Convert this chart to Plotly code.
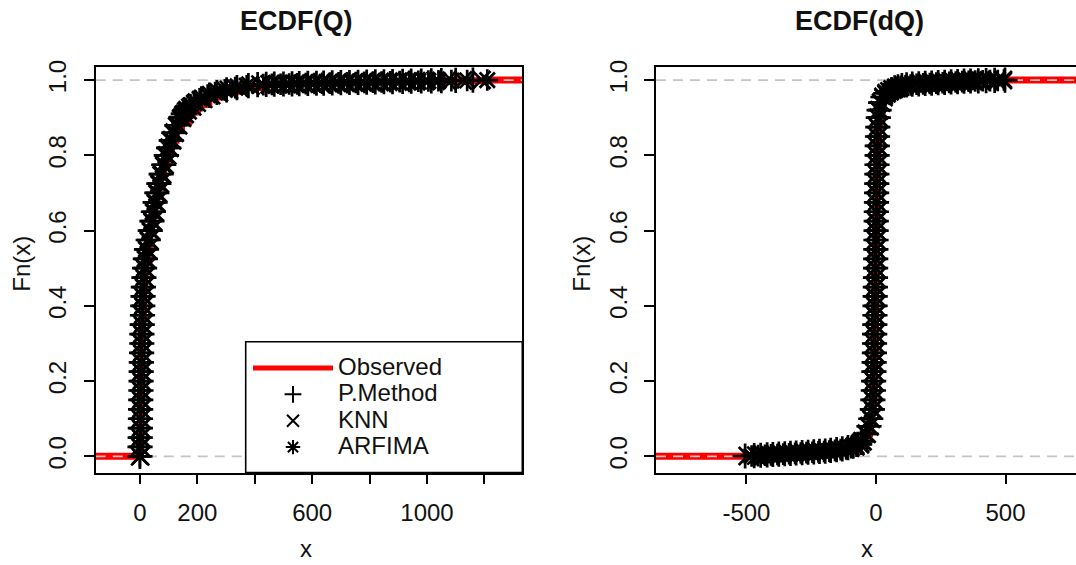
import plotly.graph_objects as go

# ---------------- data: ECDF(Q) ----------------
FQ_BODY = [0.00, 0.025, 0.05, 0.075, 0.10, 0.125, 0.15, 0.175, 0.20, 0.225, 0.25, 0.275,
           0.30, 0.325, 0.35, 0.375, 0.40, 0.425, 0.45, 0.475, 0.50, 0.525, 0.55, 0.575,
           0.60, 0.625, 0.65, 0.675, 0.70, 0.725, 0.75, 0.775, 0.80, 0.82, 0.84, 0.86,
           0.88, 0.90, 0.91, 0.92, 0.93, 0.94, 0.95, 0.96, 0.967, 0.974, 0.98, 0.985]
FQ_TAIL = [0.988, 0.9885, 0.989, 0.9895, 0.990, 0.9905, 0.991, 0.9915, 0.992, 0.9925, 0.993, 0.9935,
           0.994, 0.9945, 0.995, 0.9955, 0.996, 0.9965, 0.997, 0.9975, 0.998, 0.9985, 0.999, 1.0]

Q_PM_BODY = [0, 0.5, 1, 1.5, 2, 2.5, 3, 3.5, 4, 4.5, 5, 6, 6.5, 7, 8, 9, 10, 11, 12, 14, 16, 19, 23,
             29, 36, 42, 47, 53, 59, 66, 74, 83, 92, 100, 109, 118, 129, 143, 151, 161, 176, 193,
             214, 242, 268, 302, 338, 378]
Q_KNN_BODY = [1, 1.5, 2, 2.5, 3, 3.5, 4, 4.5, 5, 5.5, 6, 6.5, 7, 8, 9, 10, 11, 12, 13.5, 15, 17.5,
              21, 25, 31, 38, 44, 50, 56, 62, 69, 77, 86, 95, 103, 112, 121, 133, 147, 156, 166,
              182, 198, 220, 248, 275, 310, 345, 385]
Q_ARF_BODY = [0, 0, 0.5, 1, 1.5, 2, 2.5, 3, 3.5, 4, 4.5, 5, 6, 6.5, 7, 8, 9, 10, 11, 13, 15, 17,
              21, 27, 34, 40, 45, 51, 57, 64, 71, 80, 89, 97, 105, 114, 125, 139, 147, 157, 171,
              188, 208, 236, 262, 296, 332, 372]
Q_PM_TAIL = [410, 440, 468, 500, 530, 555, 585, 615, 640, 670, 700, 730, 760, 790, 820, 850,
             880, 915, 945, 980, 1015, 1050, 1100, 1160]
Q_KNN_TAIL = [420, 452, 480, 510, 540, 570, 600, 628, 655, 685, 715, 745, 775, 805, 835, 865,
              898, 930, 962, 995, 1030, 1070, 1125, 1190]
Q_ARF_TAIL = [430, 460, 490, 520, 548, 578, 608, 635, 662, 692, 722, 752, 782, 812, 842, 872,
              905, 938, 970, 1005, 1040, 1085, 1140, 1210]

Q_OBS_X = [0, 1, 2, 3, 4, 5, 6, 7, 9, 11, 13, 16, 20, 26, 33, 41, 50, 60, 70, 82, 95, 110, 126,
           145, 170, 200, 240, 290, 350, 430, 520, 650, 800, 950, 1100, 1215]
Q_OBS_F = [0.01, 0.05, 0.10, 0.15, 0.20, 0.25, 0.30, 0.34, 0.38, 0.42, 0.46, 0.49, 0.52, 0.56,
           0.60, 0.64, 0.68, 0.715, 0.745, 0.78, 0.81, 0.84, 0.865, 0.89, 0.915, 0.935, 0.955,
           0.97, 0.98, 0.988, 0.991, 0.993, 0.995, 0.997, 0.998, 1.0]

# ---------------- data: ECDF(dQ) ----------------
FD_LOW = [0.001, 0.002, 0.003, 0.004, 0.005, 0.006, 0.007, 0.008, 0.009, 0.010, 0.011, 0.012,
          0.013, 0.014, 0.016, 0.018, 0.020, 0.023, 0.027, 0.032]
FD_BODY = [0.04, 0.06, 0.08, 0.10, 0.125, 0.15, 0.175, 0.20, 0.225, 0.25, 0.275, 0.30, 0.325,
           0.35, 0.375, 0.40, 0.425, 0.45, 0.475, 0.50, 0.525, 0.55, 0.575, 0.60, 0.625, 0.65,
           0.675, 0.70, 0.725, 0.75, 0.775, 0.80, 0.825, 0.85, 0.875, 0.90, 0.92, 0.94, 0.955, 0.965]
FD_HIGH = [0.970, 0.975, 0.979, 0.982, 0.985, 0.987, 0.989, 0.990, 0.991, 0.992, 0.993, 0.994,
           0.995, 0.996, 0.997, 0.9975, 0.998, 0.9985, 0.999, 1.0]

D_PM_LOW = [-505, -470, -445, -420, -398, -375, -352, -330, -308, -285, -262, -240, -218, -196,
            -175, -152, -130, -108, -88, -70]
D_KNN_LOW = [-495, -462, -435, -410, -388, -365, -342, -320, -298, -275, -252, -230, -208, -186,
             -165, -142, -120, -100, -80, -62]
D_ARF_LOW = [-480, -455, -428, -405, -380, -358, -335, -312, -290, -268, -245, -222, -200, -180,
             -158, -136, -115, -95, -75, -56]
D_PM_BODY = [-55, -38, -27, -20, -14, -12, -10, -9, -8, -7, -6, -5.5, -5, -4.5, -4, -3.5, -3,
             -2.5, -2, -1.5, -1, -0.5, 0, 0.5, 1, 1.5, 2, 2.5, 3, 3.5, 4, 4.5, 5, 6, 7, 9, 12,
             18, 27, 38]
D_KNN_BODY = [-52, -36, -25, -19, -13, -11, -9.5, -8.5, -7.5, -6.5, -5.5, -5, -4.5, -4, -3.5, -3,
              -2.5, -2, -1.5, -1, -0.5, 0, 0.5, 1, 1.5, 2, 2.5, 3, 3.5, 4, 4.5, 5, 5.5, 6.5, 7.5,
              10, 13, 20, 29, 41]
D_ARF_BODY = [-58, -40, -29, -21, -15, -12.5, -10.5, -9.5, -8.5, -7.5, -6.5, -6, -5.5, -5, -4.5,
              -4, -3.5, -3, -2.5, -2, -1.5, -1, -0.5, 0, 0.5, 1, 1.5, 2, 2.5, 3, 3.5, 4, 4.5, 5.5,
              6.5, 8.5, 11, 17, 25, 36]
D_PM_HIGH = [48, 60, 72, 85, 100, 118, 140, 165, 190, 215, 240, 265, 290, 315, 340, 365, 395,
             425, 458, 498]
D_KNN_HIGH = [52, 64, 78, 92, 108, 128, 150, 175, 200, 225, 250, 275, 300, 325, 350, 375, 405,
              435, 465, 490]
D_ARF_HIGH = [55, 68, 82, 96, 114, 134, 157, 182, 208, 233, 258, 283, 308, 333, 358, 383, 412,
              440, 470, 494]

D_OBS_X = [-506, -400, -300, -200, -120, -70, -40, -25, -15, -10, -7, -5, -3, -1.5, 0, 1.5, 3,
           5, 7, 10, 15, 25, 40, 70, 120, 200, 300, 400, 498]
D_OBS_F = [0.0005, 0.002, 0.004, 0.008, 0.014, 0.03, 0.06, 0.09, 0.13, 0.18, 0.24, 0.30, 0.38,
           0.46, 0.54, 0.62, 0.70, 0.77, 0.83, 0.88, 0.92, 0.95, 0.97, 0.983, 0.99, 0.994, 0.997,
           0.999, 1.0]

SERIES = ["Observed", "P.Method", "KNN", "ARFIMA"]
TITLES = ["ECDF(Q)", "ECDF(dQ)"]
Q_TICKS = [0, 200, 400, 600, 800, 1000, 1200]
Q_TICKTEXT = ["0", "200", "", "600", "", "1000", ""]
D_TICKS = [-500, 0, 500]
D_TICKTEXT = ["-500", "0", "500"]
Y_TICKS = [0.0, 0.2, 0.4, 0.6, 0.8, 1.0]

# ---------------- layout constants ----------------
W, H = 1076, 565
XR_Q = [-154, 1332]
XR_D = [-849, 772]
YR = [-0.0433, 1.0354]
FONT = "Liberation Sans, Arial, sans-serif"
SYM = {"P.Method": "cross-thin", "KNN": "x-thin", "ARFIMA": "asterisk-open"}

fig = go.Figure()


def add_panel(xa, ya, xr, obs_x, obs_f, sims, legend):
    # observed step line (extends to plot edges like R's plot.ecdf)
    fig.add_trace(go.Scatter(
        x=[xr[0]] + obs_x + [xr[1]], y=[0] + obs_f + [1.0], mode="lines",
        line=dict(color="#ff0000", width=7, shape="hv"),
        name="<span style='font-size:24px'>" + SERIES[0] + "</span>",
        showlegend=legend, xaxis=xa, yaxis=ya, hoverinfo="skip"))
    for yv in (0, 1):
        fig.add_trace(go.Scatter(
            x=xr, y=[yv, yv], mode="lines", showlegend=False,
            line=dict(color="#c4c4c4", width=1.8, dash="10px,7px"),
            xaxis=xa, yaxis=ya, hoverinfo="skip"))
    fig.add_trace(go.Scatter(
        x=obs_x, y=obs_f, mode="markers", showlegend=False,
        marker=dict(color="#ff0000", size=4), xaxis=xa, yaxis=ya, hoverinfo="skip"))
    for name, (sx, sf) in sims.items():
        fig.add_trace(go.Scatter(
            x=sx, y=sf, mode="markers",
            name="<span style='font-size:24px'>" + name + "</span>", showlegend=legend,
            marker=dict(symbol=SYM[name], size=18, color="black",
                        line=dict(color="black", width=2.7)),
            xaxis=xa, yaxis=ya, hoverinfo="skip"))


add_panel("x", "y", XR_Q, Q_OBS_X, Q_OBS_F, {
    "P.Method": (Q_PM_BODY + Q_PM_TAIL, FQ_BODY + FQ_TAIL),
    "KNN": (Q_KNN_BODY + Q_KNN_TAIL, FQ_BODY + FQ_TAIL),
    "ARFIMA": (Q_ARF_BODY + Q_ARF_TAIL, FQ_BODY + FQ_TAIL),
}, True)
add_panel("x2", "y2", XR_D, D_OBS_X, D_OBS_F, {
    "P.Method": (D_PM_LOW + D_PM_BODY + D_PM_HIGH, FD_LOW + FD_BODY + FD_HIGH),
    "KNN": (D_KNN_LOW + D_KNN_BODY + D_KNN_HIGH, FD_LOW + FD_BODY + FD_HIGH),
    "ARFIMA": (D_ARF_LOW + D_ARF_BODY + D_ARF_HIGH, FD_LOW + FD_BODY + FD_HIGH),
}, False)

ydom = [(H - 471.5) / H, (H - 60.5) / H]
axis_common = dict(showgrid=False, zeroline=False, showline=True, linecolor="black",
                   linewidth=1.6, ticks="outside", ticklen=10, tickwidth=1.6,
                   tickcolor="black", ticklabelstandoff=8,
                   tickfont=dict(family=FONT, size=24, color="#111"))

fig.update_layout(
    width=W, height=H, margin=dict(l=0, r=0, t=0, b=0),
    paper_bgcolor="white", plot_bgcolor="white",
    xaxis=dict(domain=[95.7 / W, 522.3 / W], range=XR_Q, anchor="y", mirror=True,
               tickvals=Q_TICKS, ticktext=Q_TICKTEXT, **axis_common),
    yaxis=dict(domain=ydom, range=YR, anchor="x", mirror=True, tickvals=Y_TICKS,
               tickformat=".1f", tickangle=-90, **axis_common),
    xaxis2=dict(domain=[656 / W, 1.0], range=XR_D, anchor="y2", mirror=True,
                tickvals=D_TICKS, ticktext=D_TICKTEXT, **axis_common),
    yaxis2=dict(domain=ydom, range=YR, anchor="x2", mirror=False, tickvals=Y_TICKS,
                tickformat=".1f", tickangle=-90, **axis_common),
    showlegend=True,
    legend=dict(x=248 / W, y=(H - 347) / H, xanchor="left", yanchor="top",
                bgcolor="rgba(0,0,0,0)", borderwidth=0,
                font=dict(family=FONT, size=18, color="#111"), itemwidth=80,
                itemsizing="constant", tracegroupgap=0),
    shapes=[dict(type="rect", xref="paper", yref="paper", layer="above",
                 x0=245.7 / W, x1=522.3 / W, y0=(H - 471.5) / H, y1=(H - 339) / H,
                 fillcolor="white", line=dict(color="black", width=1.6))],
)

ann = dict(xref="paper", yref="paper", showarrow=False, font=dict(family=FONT, size=24, color="#111"))
tfont = dict(family=FONT, size=27, color="#111")
fig.add_annotation(text="<b>" + TITLES[0] + "</b>", x=296 / W, y=(H - 14) / H,
                   xanchor="center", yanchor="middle", **{**ann, "font": tfont})
fig.add_annotation(text="<b>" + TITLES[1] + "</b>", x=859 / W, y=(H - 14) / H,
                   xanchor="center", yanchor="middle", **{**ann, "font": tfont})
fig.add_annotation(text="x", x=306 / W, y=(H - 548) / H, xanchor="center", yanchor="middle", **ann)
fig.add_annotation(text="x", x=867.5 / W, y=(H - 548) / H, xanchor="center", yanchor="middle", **ann)
fig.add_annotation(text="Fn(x)", x=22 / W, y=(H - 260) / H, textangle=-90,
                   xanchor="center", yanchor="middle", **ann)
fig.add_annotation(text="Fn(x)", x=582 / W, y=(H - 260) / H, textangle=-90,
                   xanchor="center", yanchor="middle", **ann)

fig.write_html("out.html")
